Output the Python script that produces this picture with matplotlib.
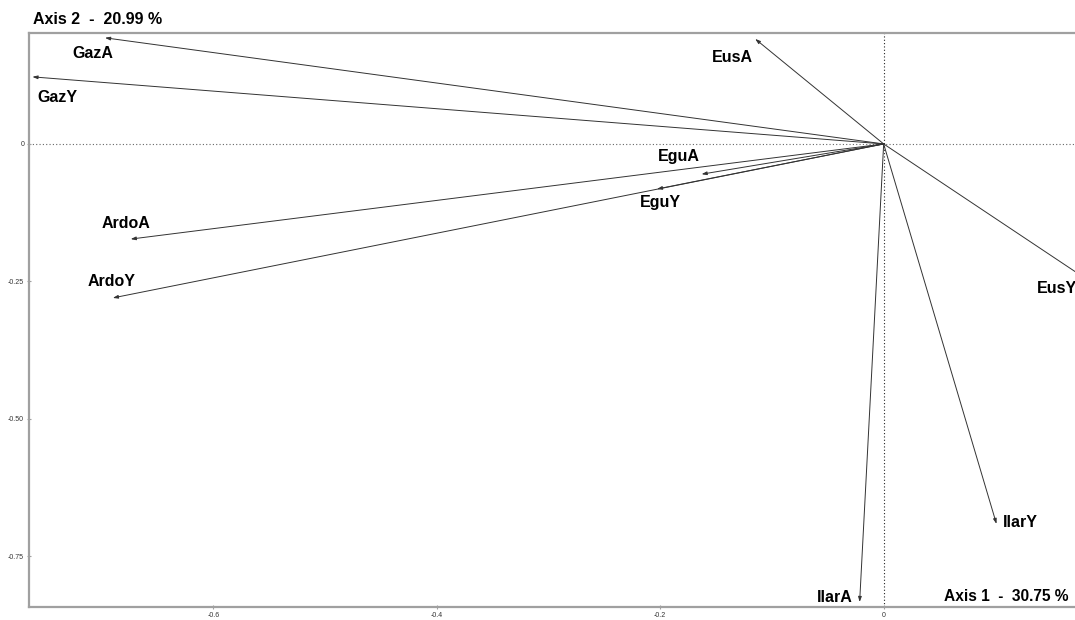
import matplotlib.pyplot as plt

# arrow tips (axis 1, axis 2) and label positions
names = ["GazA", "GazY", "EusA", "EguA", "EguY", "ArdoA", "ArdoY", "EusY", "IlarY", "IlarA"]
tip_x = [-0.697, -0.762, -0.115, -0.163, -0.203, -0.674, -0.690, 0.189, 0.101, -0.0215]
tip_y = [0.193, 0.122, 0.191, -0.055, -0.082, -0.173, -0.280, -0.256, -0.691, -0.833]
lab_x = [-0.708, -0.740, -0.135, -0.183, -0.200, -0.678, -0.691, 0.155, 0.122, -0.044]
lab_y = [0.165, 0.085, 0.158, -0.022, -0.107, -0.145, -0.251, -0.262, -0.689, -0.825]

xticks = [-0.6, -0.4, -0.2, 0]
xtick_labels = ["-0.6", "-0.4", "-0.2", "0"]
yticks = [0, -0.25, -0.5, -0.75]
ytick_labels = ["0", "-0.25", "-0.50", "-0.75"]

plt.rcParams["font.family"] = ["Liberation Sans", "DejaVu Sans"]

fig = plt.figure(figsize=(10.75, 6.2), dpi=100)
ax = fig.add_axes([0.027, 0.021, 0.9935, 0.926])
ax.set_xlim(-0.765, 0.191)
ax.set_ylim(-0.842, 0.202)

for s in ax.spines.values():
    s.set_color("#a0a0a0")
    s.set_linewidth(1.6)

ax.axhline(0, color="#666666", lw=0.8, ls=(0, (1, 2)), zorder=1)
ax.axvline(0, color="#222222", lw=0.8, ls=(0, (1, 2)), zorder=1)

for name, x, y, lx, ly in zip(names, tip_x, tip_y, lab_x, lab_y):
    ax.annotate("", xy=(x, y), xytext=(0, 0),
                arrowprops=dict(arrowstyle="-|>,head_length=0.3,head_width=0.1",
                                color="#333333", lw=0.7, shrinkA=0, shrinkB=0))
    ax.text(lx, ly, name, ha="center", va="center", fontsize=11.5,
            fontweight="bold", color="black")

ax.set_xticks(xticks)
ax.set_xticklabels(xtick_labels)
ax.set_yticks(yticks)
ax.set_yticklabels(ytick_labels)
ax.tick_params(labelsize=5, colors="#333333", length=3, width=0.8,
               direction="inout", pad=2)
ax.tick_params(axis="both", color="#a0a0a0")

fig.text(33 / 1075, 1 - 20 / 620, "Axis 2  -  20.99 %", ha="left", va="center",
         fontsize=11.5, fontweight="bold")
ax.text(0.054, -0.823, "Axis 1  -  30.75 %", ha="left", va="center",
        fontsize=11.2, fontweight="bold")

fig.savefig("out.png", dpi=100)
